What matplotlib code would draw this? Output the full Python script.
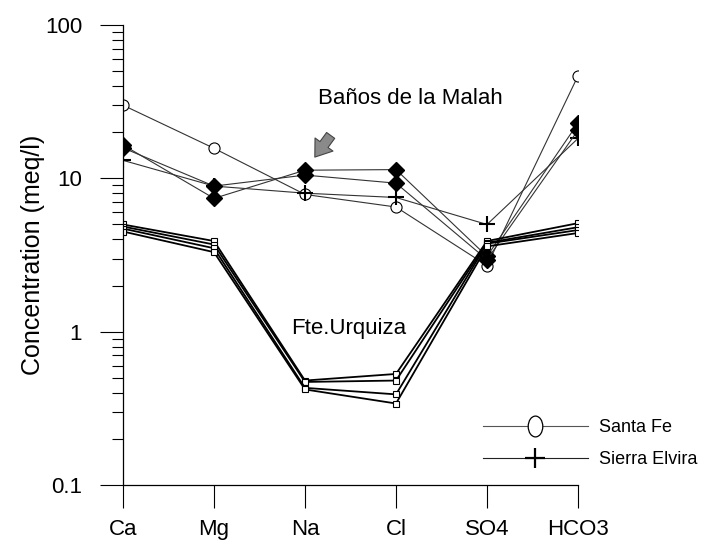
import matplotlib
matplotlib.use("Agg")
import matplotlib.pyplot as plt
from matplotlib.lines import Line2D
from matplotlib.path import Path
from matplotlib.transforms import Affine2D

plt.rcParams['font.family'] = ['Liberation Sans', 'DejaVu Sans']

# iones en el eje x
iones = ["Ca", "Mg", "Na", "Cl", "SO4", "HCO3"]

# Baños de la Malah (meq/l)
santa_fe = [30.0, 15.7, 7.85, 6.5, 2.7, 46.6]
sierra_elvira = [13.1, 8.9, 8.0, 7.5, 5.0, 18.2]
malah_1 = [16.5, 7.4, 11.3, 11.4, 3.1, 22.9]
malah_2 = [15.8, 8.9, 10.5, 9.3, 2.95, 20.6]

# Fte. Urquiza (meq/l)
urquiza_1 = [5.0, 3.9, 0.48, 0.53, 3.9, 5.1]
urquiza_2 = [4.85, 3.7, 0.47, 0.48, 3.8, 4.8]
urquiza_3 = [4.7, 3.5, 0.43, 0.39, 3.75, 4.6]
urquiza_4 = [4.5, 3.3, 0.42, 0.34, 3.6, 4.4]

x = list(range(len(iones)))

fig = plt.figure(figsize=(7.01, 5.45), dpi=100)
ax = fig.add_axes([123/701, 60/545, 455/701, 460/545])

lc = "#333333"
ax.plot(x, santa_fe, color=lc, lw=0.8, marker="o", ms=8, mfc="white", mec="black", mew=0.8)
ax.plot(x, sierra_elvira, color=lc, lw=0.8, marker="+", ms=11, mec="black", mew=1.5)
for serie in [malah_1, malah_2]:
    ax.plot(x, serie, color=lc, lw=0.8, marker="D", ms=8.5, mfc="black", mec="black")
for serie in [urquiza_1, urquiza_2, urquiza_3, urquiza_4]:
    ax.plot(x, serie, color="black", lw=1.3, marker="s", ms=4, mfc="white", mec="black", mew=0.8)

ax.set_yscale("log")
ax.set_ylim(0.1, 100)
ax.set_xlim(0, 5)
ax.set_xticks(x)
ax.set_xticklabels(iones)
ax.set_yticks([0.1, 1, 10, 100])
ax.set_yticklabels(["0.1", "1", "10", "100"])

for s in ["top", "right"]:
    ax.spines[s].set_visible(False)
for s in ["left", "bottom"]:
    ax.spines[s].set_linewidth(0.9)

ax.tick_params(axis="x", which="major", direction="out", length=16.5, width=0.8, pad=8, labelsize=16)
ax.tick_params(axis="y", which="major", direction="out", length=16.5, width=0.8, pad=13, labelsize=16)
ax.tick_params(axis="y", which="minor", direction="out", length=8, width=0.8)

ax.set_ylabel("Concentration (meq/l)", fontsize=18, labelpad=0)

ax.text(2.14, 33.4, "Baños de la Malah", fontsize=16, ha="left", va="center")
ax.text(1.85, 1.05, "Fte.Urquiza", fontsize=16, ha="left", va="center")

ax.annotate("", xy=(2.09, 13.3), xytext=(2.30, 19.7),
            arrowprops=dict(arrowstyle="simple,head_length=0.7,head_width=1.0,tail_width=0.45",
                            mutation_scale=16, fc="#8a8a8a", ec="#444444", lw=0.8))

# leyenda con marcador elíptico
elipse = Path.unit_circle().transformed(Affine2D().scale(0.7, 1.0))
handles = [
    Line2D([], [], color="#555555", lw=0.8, marker=elipse, ms=15, mfc="white", mec="black", mew=0.9),
    Line2D([], [], color="#222222", lw=0.8, marker="+", ms=15, mec="black", mew=1.6),
]
ax.legend(handles, ["Santa Fe", "Sierra Elvira"], loc="upper left",
          bbox_to_anchor=(483/701, (545-419)/545), bbox_transform=fig.transFigure,
          frameon=False, fontsize=13, handlelength=5.8, handletextpad=0.6,
          labelspacing=0.85, borderpad=0, borderaxespad=0)

fig.savefig("out.png", dpi=100)
